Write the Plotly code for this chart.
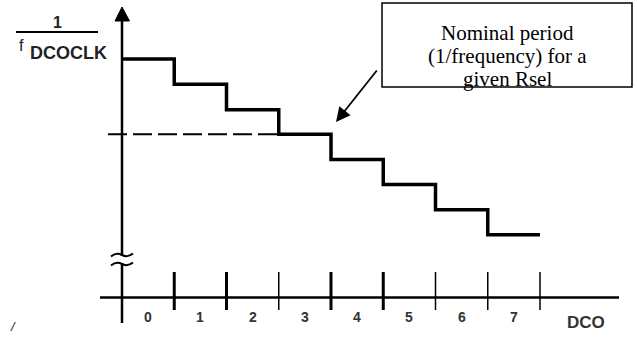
import plotly.graph_objects as go

# ---- data ----
dco_codes = [0, 1, 2, 3, 4, 5, 6, 7]
dco_labels = ["0", "1", "2", "3", "4", "5", "6", "7"]
period_levels = [9.5, 8.5, 7.48, 6.5, 5.5, 4.5, 3.5, 2.5]   # relative 1/fDCOCLK per DCO step
nominal_code = 3
thick_ticks = [1, 2, 4, 5]
thin_ticks = [3, 6, 7, 8]

W, H = 637, 337
X0PX, XS = 122.0, 52.25      # pixel of x=0, pixels per DCO step
Y0PX, YS = 297.5, 25.1       # pixel of y=0, pixels per unit

def xd(px):
    return (px - X0PX) / XS

def yd(py):
    return (Y0PX - py) / YS

fig = go.Figure()

# step curve
xs = list(dco_codes) + [dco_codes[-1] + 1]
ys = list(period_levels) + [period_levels[-1]]
fig.add_trace(go.Scatter(x=xs, y=ys, mode="lines", line=dict(color="black", width=3.5, shape="hv"),
                         hoverinfo="skip"))

# dashed nominal line
nom = period_levels[nominal_code]
fig.add_trace(go.Scatter(x=[xd(108), nominal_code], y=[nom, nom], mode="lines",
                         line=dict(color="black", width=2, dash="19px,6px"), hoverinfo="skip"))

shapes = []
# horizontal axis
shapes.append(dict(type="line", xref="x", yref="y", x0=xd(100), x1=xd(619), y0=0, y1=0,
                   line=dict(color="black", width=2.5)))
# vertical axis (broken)
shapes.append(dict(type="line", xref="x", yref="y", x0=0, x1=0, y0=yd(323), y1=yd(263),
                   line=dict(color="black", width=2.5)))
shapes.append(dict(type="line", xref="x", yref="y", x0=0, x1=0, y0=yd(256), y1=yd(20),
                   line=dict(color="black", width=2.5)))
# arrow head on vertical axis
ax0, ax1 = xd(115), xd(129.5)
shapes.append(dict(type="path", xref="x", yref="y",
                   path=f"M {ax0},{yd(21)} L {ax1},{yd(21)} L 0,{yd(7)} Z",
                   fillcolor="black", line=dict(color="black", width=1)))
# break marks
def tilde(py):
    a, b = xd(111), xd(133)
    m = (a + b) / 2
    q1, q3 = (a + m) / 2, (m + b) / 2
    return (f"M {a},{yd(py+1.5)} Q {q1},{yd(py-3)} {m},{yd(py)} Q {q3},{yd(py+3)} {b},{yd(py-1.5)}")
for py in (255, 264):
    shapes.append(dict(type="path", xref="x", yref="y", path=tilde(py),
                       line=dict(color="black", width=2)))
# ticks
for t in thick_ticks:
    shapes.append(dict(type="line", xref="x", yref="y", x0=t, x1=t, y0=yd(310), y1=yd(272),
                       line=dict(color="black", width=3)))
for t in thin_ticks:
    shapes.append(dict(type="line", xref="x", yref="y", x0=t, x1=t, y0=yd(310), y1=yd(272),
                       line=dict(color="black", width=1.5)))
# y label fraction bar
shapes.append(dict(type="line", xref="x", yref="y", x0=xd(16), x1=xd(98), y0=yd(32), y1=yd(32),
                   line=dict(color="black", width=2)))
# callout box
shapes.append(dict(type="rect", xref="x", yref="y", x0=xd(382), x1=xd(632), y0=yd(87), y1=yd(3),
                   line=dict(color="black", width=1.5), fillcolor="white"))

annotations = []
sans = "Liberation Sans, Arial, sans-serif"
for c, lab in zip(dco_codes, dco_labels):
    annotations.append(dict(x=c + 0.5, y=yd(317), text=f"<b>{lab}</b>", showarrow=False,
                            font=dict(family=sans, size=14, color="#333333")))
annotations.append(dict(x=xd(586), y=yd(322), text="<b>DCO</b>", showarrow=False,
                        font=dict(family=sans, size=17, color="#333333")))
annotations.append(dict(x=xd(57), y=yd(22), text="<b>1</b>", showarrow=False,
                        font=dict(family=sans, size=16, color="#222222")))
annotations.append(dict(x=xd(21), y=yd(45), text="f", showarrow=False,
                        font=dict(family=sans, size=16, color="#222222")))
annotations.append(dict(x=xd(68), y=yd(53), text="<b>DCOCLK</b>", showarrow=False,
                        font=dict(family=sans, size=18, color="#222222")))
annotations.append(dict(x=xd(13), y=yd(326), text="<i>/</i>", showarrow=False,
                        font=dict(family=sans, size=13, color="#222222")))
serif = "Liberation Serif, Times New Roman, serif"
for txt, py in (("Nominal period", 33), ("(1/frequency) for a", 56), ("given Rsel", 79)):
    annotations.append(dict(x=xd(507), y=yd(py), text=txt, showarrow=False,
                            font=dict(family=serif, size=21, color="black")))
# pointer arrow
annotations.append(dict(x=xd(336), y=yd(122), ax=42, ay=-53, text="", showarrow=True,
                        arrowhead=2, arrowsize=1.6, arrowwidth=1.8, arrowcolor="black",
                        xref="x", yref="y"))

fig.update_layout(
    width=W, height=H, margin=dict(l=0, r=0, t=0, b=0),
    paper_bgcolor="white", plot_bgcolor="white", showlegend=False,
    xaxis=dict(range=[xd(0), xd(W)], visible=False, fixedrange=True),
    yaxis=dict(range=[yd(H), yd(0)], visible=False, fixedrange=True),
    shapes=shapes, annotations=annotations,
)
fig.write_html("out.html", config={"displayModeBar": False},
               post_script="document.body.style.margin='0';document.body.style.overflow='hidden';")
